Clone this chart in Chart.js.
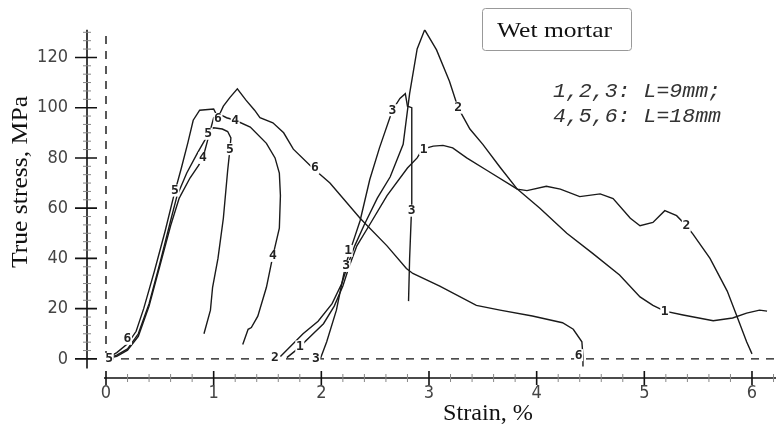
<!DOCTYPE html>
<html>
<head>
<meta charset="utf-8">
<script src="https://cdn.jsdelivr.net/npm/chart.js@4"></script>
<style>
html, body { margin: 0; padding: 0; background: #fff; }
</style>
</head>
<body>
<canvas id="c" width="779" height="430"></canvas>
<script>
// strain in %, true stress in MPa
var c1Strain = [1.68, 1.78, 1.9, 2.02, 2.12, 2.2, 2.26, 2.33, 2.45, 2.61, 2.8, 2.89, 2.94, 3.04, 3.13, 3.22, 3.35, 3.54, 3.82, 4.03, 4.28, 4.52, 4.77, 4.96, 5.08, 5.19, 5.36, 5.64, 5.82, 5.95, 6.07, 6.14];
var c1Stress = [0.5, 4, 9, 14, 21, 29, 37, 45, 53.5, 65, 76, 80, 83.5, 84.7, 85, 84, 80, 75, 67.6, 60, 50, 42, 33.4, 24.7, 21.3, 19, 17.5, 15.2, 16.3, 18.2, 19.4, 19];

var c2Strain = [1.62, 1.83, 1.97, 2.1, 2.19, 2.25, 2.31, 2.4, 2.52, 2.64, 2.76, 2.82, 2.89, 2.96, 3.07, 3.19, 3.27, 3.38, 3.5, 3.66, 3.82, 3.91, 4.09, 4.22, 4.4, 4.59, 4.71, 4.87, 4.96, 5.08, 5.19, 5.3, 5.39, 5.45, 5.61, 5.77, 5.86, 5.95, 6.0];
var c2Stress = [1, 10, 15, 22, 30, 38, 45, 53.5, 64, 72.5, 85.4, 105.6, 123.4, 131, 123, 110.5, 100, 91.5, 85.4, 76.3, 67.6, 67, 68.7, 67.6, 64.6, 65.7, 63.8, 56, 53, 54.3, 59, 57, 53, 49.8, 40, 27, 17, 6.8, 2];

var c3Strain = [1.99, 2.05, 2.14, 2.2, 2.23, 2.29, 2.36, 2.45, 2.54, 2.66, 2.73, 2.78, 2.8, 2.84, 2.84, 2.82, 2.81];
var c3Stress = [0, 6.8, 19.4, 32, 38, 46, 55, 71.4, 84, 99, 103.7, 105.6, 100.6, 100, 62, 40, 23];

var c4Strain = [0, 0.1, 0.2, 0.3, 0.4, 0.5, 0.6, 0.68, 0.78, 0.86, 0.9, 0.95, 1.0, 1.05, 1.12, 1.2, 1.34, 1.49, 1.57, 1.61, 1.62, 1.61, 1.55, 1.49, 1.41, 1.35, 1.32, 1.27];
var c4Stress = [0, 1, 3.5, 9, 21, 37, 53, 64, 72, 77, 80, 88, 96, 97.5, 96, 95, 92.3, 85.8, 80, 74, 65, 52, 41, 28.5, 17, 12.5, 11.8, 5.7];

var c5Strain = [0, 0.1, 0.2, 0.3, 0.4, 0.5, 0.6, 0.66, 0.75, 0.85, 0.93, 0.97, 1.0, 1.08, 1.13, 1.16, 1.15, 1.13, 1.09, 1.04, 0.99, 0.97, 0.91];
var c5Stress = [0, 1.5, 4, 10, 22, 38, 55, 65, 74, 82, 88, 91, 92, 91.5, 90.5, 88, 83, 75, 56, 40, 28.5, 19.4, 10];

var c6Strain = [0, 0.1, 0.2, 0.28, 0.35, 0.45, 0.55, 0.63, 0.7, 0.76, 0.81, 0.87, 1.0, 1.04, 1.09, 1.15, 1.22, 1.3, 1.38, 1.43, 1.55, 1.65, 1.74, 1.92, 2.08, 2.36, 2.61, 2.79, 2.85, 3.1, 3.44, 3.66, 3.96, 4.24, 4.34, 4.42, 4.43, 4.43];
var c6Stress = [0, 2.5, 6, 11, 20, 35, 51, 65, 76, 86, 95, 99, 99.5, 96, 100.6, 104, 107.5, 103, 99, 96, 94, 90, 83.5, 76, 70, 56, 45, 36, 34, 29, 21.3, 19.4, 17.1, 14.4, 11.8, 6.8, 1, -3];

var xTickValues = [0, 1, 2, 3, 4, 5, 6];
var yTickValues = [0, 20, 40, 60, 80, 100, 120];

// curve numbers written along the lines
var curveTags = ['5', '6', '5', '4', '5', '6', '4', '5', '4', '6', '2', '1', '3', '1', '3', '3', '3', '1', '2', '2', '1', '6'];
var tagStrain = [0.03, 0.2, 0.64, 0.9, 0.95, 1.04, 1.2, 1.15, 1.55, 1.94, 1.57, 1.8, 1.95, 2.25, 2.23, 2.66, 2.84, 2.95, 3.27, 5.39, 5.19, 4.39];
var tagStress = [0, 8, 67, 80, 89.6, 95.5, 95, 83.5, 41, 76, 0.5, 5, 0, 43, 37, 99, 59, 83.5, 100, 53, 19, 1.5];

function pts(xs, ys) {
  return xs.map(function(x, i) { return { x: x, y: ys[i] }; });
}

function curve(xs, ys) {
  return {
    data: pts(xs, ys),
    borderColor: '#1a1a1a',
    borderWidth: 1.4,
    pointRadius: 0,
    showLine: true,
    tension: 0
  };
}

function dashed(xs, ys) {
  return {
    data: pts(xs, ys),
    borderColor: '#111',
    borderWidth: 1.4,
    borderDash: [8, 7],
    pointRadius: 0,
    showLine: true
  };
}

// stretch text to a width
function fitText(ctx, txt, x, y, w) {
  var m = ctx.measureText(txt).width;
  ctx.save();
  ctx.translate(x, y);
  ctx.scale(w / m, 1);
  ctx.fillText(txt, 0, 0);
  ctx.restore();
}

var decor = {
  id: 'decor',
  afterDatasetsDraw: function(chart) {
    var ctx = chart.ctx;
    var xs = chart.scales.x, ys = chart.scales.y;
    ctx.save();
    ctx.font = 'bold 13px "DejaVu Sans Mono", monospace';
    ctx.textAlign = 'center';
    ctx.textBaseline = 'middle';
    curveTags.forEach(function(t, i) {
      var px = xs.getPixelForValue(tagStrain[i]);
      var py = ys.getPixelForValue(tagStress[i]);
      ctx.fillStyle = '#fff';
      ctx.fillRect(px - 4.5, py - 6, 9, 12);
      ctx.fillStyle = '#222';
      ctx.fillText(t, px, py);
    });
    ctx.restore();
  },
  afterDraw: function(chart) {
    var ctx = chart.ctx;
    var xs = chart.scales.x, ys = chart.scales.y;
    ctx.save();
    ctx.strokeStyle = '#111';
    ctx.lineWidth = 1.6;

    // left axis, standing apart from the bottom one
    var ax = xs.left;
    ctx.beginPath();
    ctx.moveTo(ax, ys.getPixelForValue(131));
    ctx.lineTo(ax, ys.getPixelForValue(-3.8));
    yTickValues.forEach(function(v) {
      var p = ys.getPixelForValue(v);
      ctx.moveTo(ax - 12, p);
      ctx.lineTo(ax + 10, p);
    });
    var by = ys.bottom;
    ctx.moveTo(xs.getPixelForValue(0) - 2, by);
    ctx.lineTo(xs.right, by);
    xTickValues.forEach(function(v) {
      var p = xs.getPixelForValue(v);
      ctx.moveTo(p, by - 7);
      ctx.lineTo(p, by + 7);
    });
    ctx.stroke();

    ctx.strokeStyle = '#888';
    ctx.lineWidth = 1;
    ctx.beginPath();
    for (var v = 0; v <= 130; v += 10 / 3) {
      if (Math.abs(v / 20 - Math.round(v / 20)) < 0.01) continue;
      var p = ys.getPixelForValue(v);
      ctx.moveTo(ax - 4, p);
      ctx.lineTo(ax + 4, p);
    }
    for (var k = 1; k <= 31; k++) {
      if (k % 5 === 0) continue;
      var q = xs.getPixelForValue(k * 0.2);
      ctx.moveTo(q, by - 4);
      ctx.lineTo(q, by + 4);
    }
    ctx.stroke();

    // axis titles
    ctx.fillStyle = '#111';
    ctx.font = '23px "Liberation Serif", "Times New Roman", serif';
    ctx.textBaseline = 'middle';
    ctx.textAlign = 'left';
    fitText(ctx, 'Strain, %', 443, 414, 90);
    ctx.save();
    ctx.translate(21, 268);
    ctx.rotate(-Math.PI / 2);
    fitText(ctx, 'True stress, MPa', 0, 0, 172);
    ctx.restore();

    // legend box
    ctx.strokeStyle = '#999';
    ctx.lineWidth = 1;
    ctx.beginPath();
    ctx.roundRect(482.5, 8.5, 149, 42, 3);
    ctx.stroke();
    ctx.font = '21px "Liberation Serif", "Times New Roman", serif';
    fitText(ctx, 'Wet mortar', 497, 31, 115);

    ctx.font = 'italic 20px "Liberation Mono", "Courier New", monospace';
    ctx.fillStyle = '#333';
    fitText(ctx, '1,2,3: L=9mm;', 553, 92, 168);
    fitText(ctx, '4,5,6: L=18mm', 553, 117, 168);
    ctx.restore();
  }
};

var tickFont = { family: '"Liberation Sans Narrow", "DejaVu Sans Condensed", sans-serif', size: 18 };

new Chart(document.getElementById('c'), {
  type: 'scatter',
  data: {
    datasets: [
      dashed([0, 6.3], [0, 0]),
      dashed([0, 0], [0, 131]),
      curve(c1Strain, c1Stress),
      curve(c2Strain, c2Stress),
      curve(c3Strain, c3Stress),
      curve(c4Strain, c4Stress),
      curve(c5Strain, c5Stress),
      curve(c6Strain, c6Stress)
    ]
  },
  options: {
    responsive: false,
    animation: false,
    layout: { padding: { top: 13, right: 3, left: 0, bottom: 0 } },
    plugins: { legend: { display: false }, tooltip: { enabled: false } },
    scales: {
      x: {
        type: 'linear',
        min: -0.1765,
        max: 6.223,
        border: { display: false },
        grid: { display: false, drawTicks: false },
        afterFit: function(s) { s.height = 52; },
        afterBuildTicks: function(s) { s.ticks = xTickValues.map(function(v) { return { value: v }; }); },
        ticks: { color: '#444', font: tickFont, padding: 5, maxRotation: 0, autoSkip: false }
      },
      y: {
        type: 'linear',
        min: -7.6,
        max: 131,
        border: { display: false },
        grid: { display: false, drawTicks: false },
        afterFit: function(s) { s.width = 87; },
        afterBuildTicks: function(s) { s.ticks = yTickValues.map(function(v) { return { value: v }; }); },
        ticks: { color: '#444', font: tickFont, padding: 19 }
      }
    }
  },
  plugins: [decor]
});
</script>
</body>
</html>
